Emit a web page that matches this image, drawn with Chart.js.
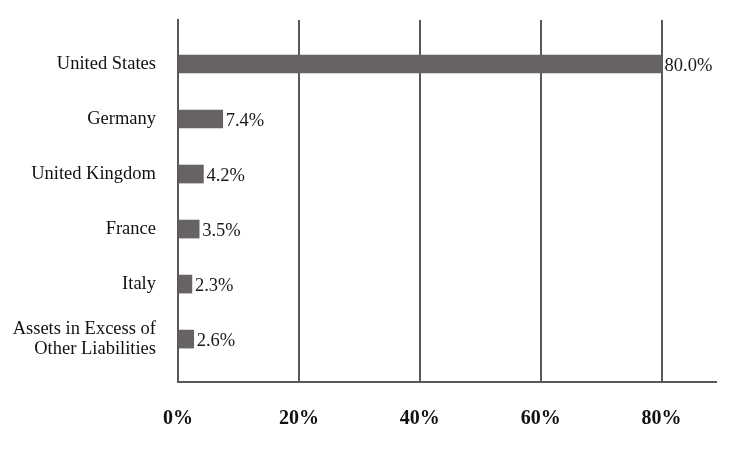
<!DOCTYPE html>
<html>
<head>
<meta charset="utf-8">
<script src="https://cdn.jsdelivr.net/npm/chart.js@4"></script>
<style>
  body { margin: 0; background: #fff; }
  #wrap { width: 756px; height: 456px; }
</style>
</head>
<body>
<div id="wrap"><canvas id="chart" width="756" height="456"></canvas></div>
<script>
// --- Data ---
const countries = ['United States', 'Germany', 'United Kingdom', 'France', 'Italy', ['Assets in Excess of', 'Other Liabilities']];
const weights = [80.0, 7.4, 4.2, 3.5, 2.3, 2.6];
const xTicks = [0, 20, 40, 60, 80];

const barColor = '#676362';
const lineColor = '#5a5759';
const serif = "'Liberation Serif', 'Times New Roman', serif";

// draws the "7.4%" style labels at the end of each bar
const endLabels = {
    id: 'endLabels',
    afterDatasetsDraw(chart) {
        const ctx = chart.ctx;
        const meta = chart.getDatasetMeta(0);
        ctx.save();
        ctx.font = '18.5px ' + serif;
        ctx.fillStyle = '#1a1a1a';
        ctx.textAlign = 'left';
        ctx.textBaseline = 'middle';
        meta.data.forEach((bar, i) => {
            ctx.fillText(weights[i].toFixed(1) + '%', bar.x + 3, bar.y + 2.5);
        });
        ctx.restore();
    }
};

new Chart(document.getElementById('chart'), {
    type: 'bar',
    data: {
        datasets: [{
            data: weights.map((v, i) => ({x: v, y: i})),
            backgroundColor: barColor,
            barThickness: 18
        }]
    },
    options: {
        indexAxis: 'y',
        responsive: false,
        animation: false,
        layout: {padding: {left: 12, right: 40, top: 20, bottom: 0}},
        plugins: {legend: {display: false}, tooltip: {enabled: false}},
        scales: {
            x: {
                type: 'linear',
                min: 0,
                max: 89,
                afterBuildTicks: s => { s.ticks = xTicks.map(v => ({value: v})); },
                grid: {color: lineColor, lineWidth: 2, drawTicks: false},
                border: {color: lineColor, width: 2},
                ticks: {
                    padding: 25,
                    color: '#111',
                    font: {family: serif, size: 20, weight: 'bold'},
                    callback: v => v + '%'
                }
            },
            y: {
                type: 'linear',
                reverse: true,
                offset: false,
                min: -0.8,
                max: countries.length - 1 + 0.78,
                afterBuildTicks: s => { s.ticks = countries.map((c, i) => ({value: i})); },
                afterFit: s => { s.width = 166; s.paddingTop = 0; s.paddingBottom = 0; },
                grid: {display: false, drawTicks: false, offset: false},
                border: {color: lineColor, width: 2},
                ticks: {
                    padding: 22,
                    color: '#111',
                    font: {family: serif, size: 18.5, lineHeight: 1.08},
                    callback: v => countries[v]
                }
            }
        }
    },
    plugins: [endLabels]
});
</script>
</body>
</html>
